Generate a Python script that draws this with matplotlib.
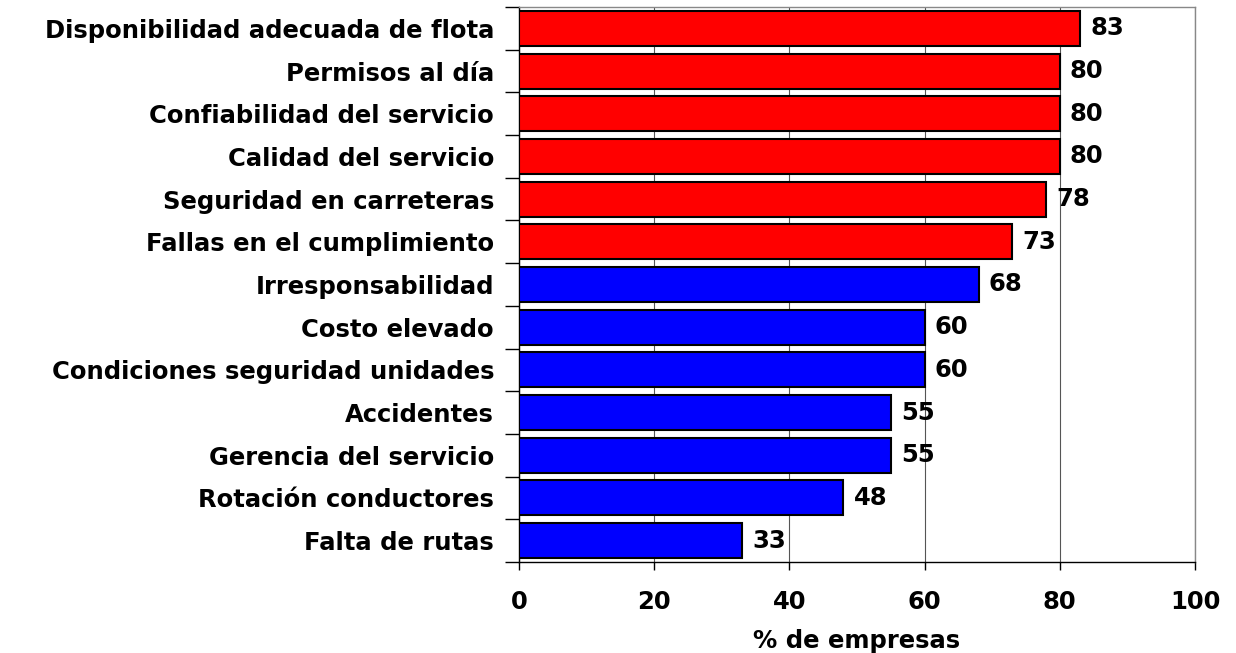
import matplotlib
matplotlib.use("Agg")
import matplotlib.pyplot as plt
import numpy as np

categories = [
    "Disponibilidad adecuada de flota",
    "Permisos al día",
    "Confiabilidad del servicio",
    "Calidad del servicio",
    "Seguridad en carreteras",
    "Fallas en el cumplimiento",
    "Irresponsabilidad",
    "Costo elevado",
    "Condiciones seguridad unidades",
    "Accidentes",
    "Gerencia del servicio",
    "Rotación conductores",
    "Falta de rutas",
]
values = [83, 80, 80, 80, 78, 73, 68, 60, 60, 55, 55, 48, 33]
colors = ["#FF0000"] * 6 + ["#0000FF"] * 7
x_ticks = [0, 20, 40, 60, 80, 100]

plt.rcParams["font.family"] = ["DejaVu Sans"]
plt.rcParams["font.weight"] = "bold"
fs = 17.5

fig = plt.figure(figsize=(12.36, 6.53), dpi=100)
ax = fig.add_axes([519 / 1236, 1 - 562 / 653, (1195 - 519) / 1236, (562 - 7) / 653])

n = len(categories)
y = np.arange(n)[::-1]
ax.barh(y, values, height=0.82, color=colors, edgecolor="black", linewidth=1.5, zorder=3)

# value labels just past the bar ends
for yi, v in zip(y, values):
    ax.text(v + 1.5, yi, str(v), va="center", ha="left", fontsize=fs, fontweight="bold", zorder=4)

ax.set_xlim(0, 100)
ax.set_ylim(-0.5, n - 0.5)
ax.set_xticks(x_ticks)
ax.set_xticklabels([str(t) for t in x_ticks], fontsize=fs, fontweight="bold")
ax.tick_params(axis="x", direction="out", length=6, width=1, pad=14)

ax.set_yticks(y)
ax.set_yticklabels(categories, fontsize=fs, fontweight="bold")
ax.tick_params(axis="y", length=0, pad=18)
ax.set_yticks(np.arange(n + 1) - 0.5, minor=True)
ax.tick_params(axis="y", which="minor", direction="out", length=10, width=1)

ax.grid(axis="x", color="#555555", linewidth=0.8, zorder=0)
for s in ["top", "right"]:
    ax.spines[s].set_color("#888888")
    ax.spines[s].set_linewidth(1)
for s in ["left", "bottom"]:
    ax.spines[s].set_color("black")
    ax.spines[s].set_linewidth(1)

ax.set_xlabel("% de empresas", fontsize=fs, fontweight="bold", labelpad=11)

fig.savefig("out.png", dpi=100)
